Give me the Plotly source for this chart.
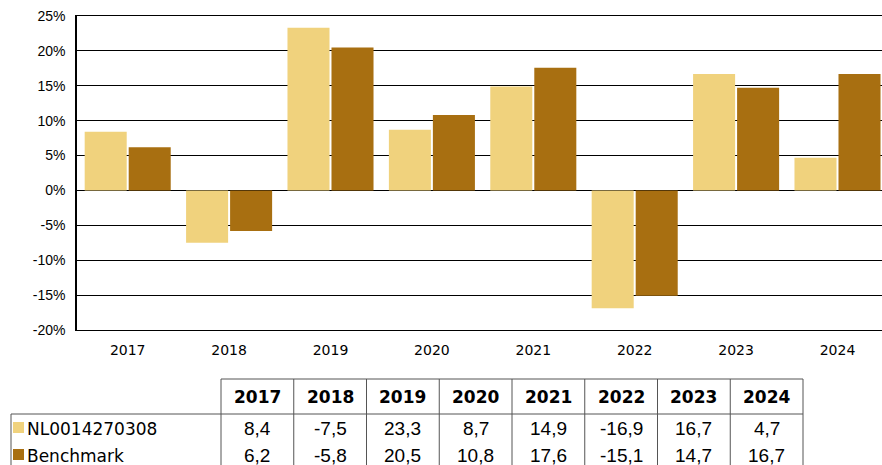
import plotly.graph_objects as go

# Annual returns (%) per calendar year
years = ["2017", "2018", "2019", "2020", "2021", "2022", "2023", "2024"]
fund_name = "NL0014270308"
fund_returns = [8.4, -7.5, 23.3, 8.7, 14.9, -16.9, 16.7, 4.7]
bench_name = "Benchmark"
bench_returns = [6.2, -5.8, 20.5, 10.8, 17.6, -15.1, 14.7, 16.7]

y_tick_values = [25, 20, 15, 10, 5, 0, -5, -10, -15, -20]
y_tick_labels = ["25%", "20%", "15%", "10%", "5%", "0%", "-5%", "-10%", "-15%", "-20%"]

fund_color = "#F0D27D"
bench_color = "#A86F11"

W, H = 882, 465
PL, PT, PB = 77, 16, 330          # plot area left / top / bottom in px
PR = W                            # plot area right edge (figure edge)
CAT_W = 101.4                     # px per category

fig = go.Figure()
fig.add_trace(go.Bar(x=years, y=fund_returns, name=fund_name,
                     marker=dict(color=fund_color, line=dict(width=0))))
fig.add_trace(go.Bar(x=years, y=bench_returns, name=bench_name,
                     marker=dict(color=bench_color, line=dict(width=0))))

visible_cats = (PR - PL) / CAT_W

fig.update_layout(
    width=W, height=H,
    margin=dict(l=PL, r=W - PR, t=PT, b=H - PB, pad=0),
    paper_bgcolor="white", plot_bgcolor="white",
    barmode="group", bargap=0.132, bargroupgap=0.045,
    showlegend=False,
    xaxis=dict(
        type="category", range=[-0.5, -0.5 + visible_cats],
        showgrid=False, showline=True, linecolor="black", linewidth=1,
        mirror=True, ticks="outside", ticklen=7, tickcolor="rgba(0,0,0,0)",
        tickfont=dict(family="Verdana, DejaVu Sans", size=14, color="black"),
    ),
    yaxis=dict(
        range=[-20, 25], tickvals=y_tick_values, ticktext=y_tick_labels,
        showgrid=True, gridcolor="black", gridwidth=1,
        zeroline=True, zerolinecolor="black", zerolinewidth=1,
        showline=True, linecolor="black", linewidth=1.5,
        ticks="outside", ticklen=7, tickcolor="rgba(0,0,0,0)",
        tickfont=dict(family="Arial, Liberation Sans", size=14, color="black"),
    ),
)

# ---- data table below the chart (paper coordinates from pixel layout) ----
plot_w = PR - PL
plot_h = PB - PT


def px_x(x):
    return (x - PL) / plot_w


def px_y(y):
    return (PB - y) / plot_h


tbl_left = 11
col0_right = 221
col_w = 72.75
hdr_top, hdr_bot = 379, 414
tbl_bot = 480
row_centers = [428, 455]
border = "#555555"

col_edges = [col0_right + i * col_w for i in range(len(years) + 1)]
tbl_right = col_edges[-1]

shapes = []


def hline(x0, x1, y):
    shapes.append(dict(type="line", xref="paper", yref="paper",
                       x0=px_x(x0), x1=px_x(x1), y0=px_y(y), y1=px_y(y),
                       line=dict(color=border, width=1)))


def vline(x, y0, y1):
    shapes.append(dict(type="line", xref="paper", yref="paper",
                       x0=px_x(x), x1=px_x(x), y0=px_y(y0), y1=px_y(y1),
                       line=dict(color=border, width=1)))


hline(col0_right, tbl_right, hdr_top)
hline(tbl_left, tbl_right, hdr_bot)
vline(tbl_left, hdr_bot, tbl_bot)
for xe in col_edges:
    vline(xe, hdr_top, tbl_bot)

annotations = []
hdr_cy = (hdr_top + hdr_bot) / 2
for i, yr in enumerate(years):
    cx = (col_edges[i] + col_edges[i + 1]) / 2
    annotations.append(dict(xref="paper", yref="paper", x=px_x(cx), y=px_y(hdr_cy),
                            text=f"<b>{yr}</b>", showarrow=False,
                            xanchor="center", yanchor="middle",
                            font=dict(family="Verdana, DejaVu Sans", size=17, color="black")))


def fmt(v):
    return f"{v:.1f}".replace(".", ",")


series = [(fund_name, fund_returns, fund_color), (bench_name, bench_returns, bench_color)]
for (name, vals, color), cy in zip(series, row_centers):
    # colour key square
    shapes.append(dict(type="rect", xref="paper", yref="paper",
                       x0=px_x(13), x1=px_x(24), y0=px_y(cy - 6), y1=px_y(cy + 5),
                       fillcolor=color, line=dict(width=0)))
    annotations.append(dict(xref="paper", yref="paper", x=px_x(25), y=px_y(cy + 1),
                            text=name, showarrow=False, xanchor="left", yanchor="middle",
                            font=dict(family="Verdana, DejaVu Sans", size=17, color="black")))
    for i, v in enumerate(vals):
        cx = (col_edges[i] + col_edges[i + 1]) / 2
        annotations.append(dict(xref="paper", yref="paper", x=px_x(cx), y=px_y(cy),
                                text=fmt(v), showarrow=False,
                                xanchor="center", yanchor="middle",
                                font=dict(family="Arial, Liberation Sans", size=19, color="black")))

fig.update_layout(shapes=shapes, annotations=annotations)

fig.write_html("out.html")
